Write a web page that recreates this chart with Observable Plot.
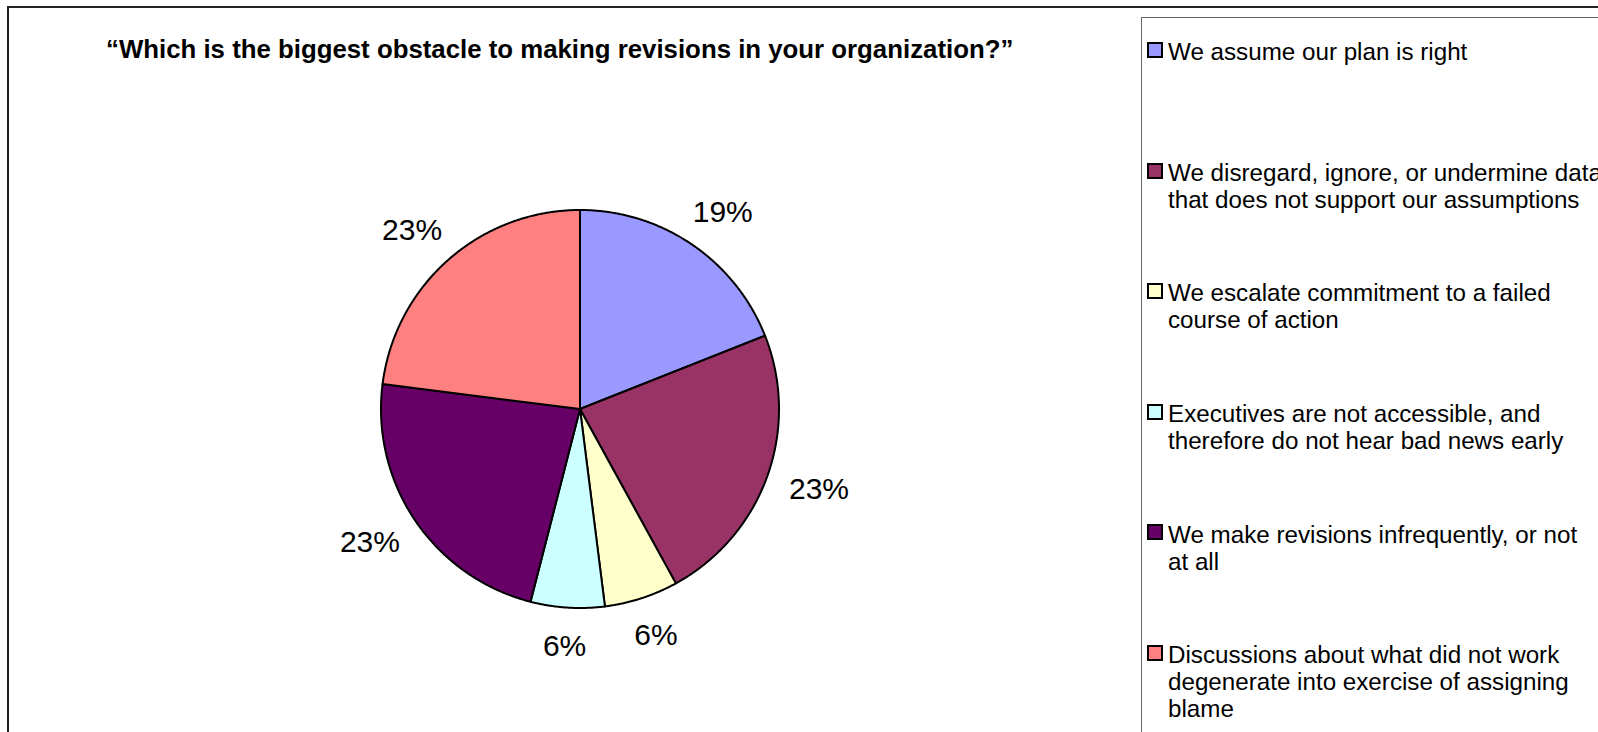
<!DOCTYPE html>
<html>
<head>
<meta charset="utf-8">
<script src="https://cdn.jsdelivr.net/npm/d3@7"></script>
<script src="https://cdn.jsdelivr.net/npm/@observablehq/plot@0.6"></script>
<style>
  html, body { margin: 0; padding: 0; background: #fff; overflow: hidden; }
  body { width: 1598px; height: 732px; position: relative; font-family: "Liberation Sans", Arial, sans-serif; color: #000; }
  #frame { position: absolute; left: 7px; top: 6px; width: 1700px; height: 800px; border: 2px solid #222; box-sizing: border-box; }
  #chart { position: absolute; left: 0; top: 0; }
  #title { position: absolute; left: 106px; top: 35.5px; font-weight: bold; font-size: 25.8px; line-height: 26px; white-space: nowrap; }
  #legend { position: absolute; left: 1141px; top: 17px; width: 700px; height: 800px; border: 1px solid #666; box-sizing: border-box; }
  .sw { position: absolute; left: 5px; width: 16px; height: 16px; border: 2px solid #000; box-sizing: border-box; }
  .lt { position: absolute; left: 26px; font-size: 24.2px; line-height: 27px; white-space: pre; }
</style>
</head>
<body>
<div id="frame"></div>
<div id="chart"></div>
<div id="title"></div>
<div id="legend"></div>
<script>
// ---- data ----
const titleText = "\u201CWhich is the biggest obstacle to making revisions in your organization?\u201D";
const categories = [
  "We assume our plan is right",
  "We disregard, ignore, or undermine data\nthat does not support our assumptions",
  "We escalate commitment to a failed\ncourse of action",
  "Executives are not accessible, and\ntherefore do not hear bad news early",
  "We make revisions infrequently, or not\nat all",
  "Discussions about what did not work\ndegenerate into exercise of assigning\nblame"
];
const percents = [19, 23, 6, 6, 23, 23];
const colors = ["#9999FF", "#993366", "#FFFFCC", "#CCFFFF", "#660066", "#FF8080"];

// ---- layout ----
const W = 1598, H = 732;
const cx = 579.5, cy = 408.5, R = 199, labelR = 224;
const fontFam = "Liberation Sans, Arial, sans-serif";

document.getElementById("title").textContent = titleText;

const arcs = d3.pie().sort(null).value(d => d)(percents);

const slicePts = [];
arcs.forEach((a, i) => {
  slicePts.push({i, x: cx, y: cy, c: colors[i]});
  const n = Math.max(4, Math.ceil((a.endAngle - a.startAngle) / 0.005));
  for (let k = 0; k <= n; k++) {
    const t = a.startAngle + (a.endAngle - a.startAngle) * k / n;
    slicePts.push({i, x: cx + R * Math.sin(t), y: cy - R * Math.cos(t), c: colors[i]});
  }
  slicePts.push({i, x: cx, y: cy, c: colors[i]});
});

const labelData = arcs.map((a, i) => {
  const t = (a.startAngle + a.endAngle) / 2;
  const txt = percents[i] + "%";
  const w = txt.length === 3 ? 60 : 43, h = 28;
  const s = Math.sin(t), c = Math.cos(t);
  return {
    text: txt,
    x: cx + labelR * s + s * w / 2,
    y: cy - labelR * c - c * h / 2
  };
});

const chart = Plot.plot({
  width: W,
  height: H,
  margin: 0,
  x: {domain: [0, W], range: [0, W], axis: null},
  y: {domain: [0, H], range: [0, H], axis: null},
  color: {type: "identity"},
  style: {background: "transparent", fontFamily: fontFam},
  marks: [
    Plot.line(slicePts, {x: "x", y: "y", z: "i", fill: "c", stroke: "#000", strokeWidth: 2, strokeLinejoin: "round"}),
    Plot.text(labelData, {x: "x", y: "y", text: "text", fontSize: 30, fill: "#000", textAnchor: "middle", lineAnchor: "middle", fontFamily: fontFam})
  ]
});
document.getElementById("chart").appendChild(chart);

// ---- legend ----
const legend = document.getElementById("legend");
const baselines0 = 60, step = 120.6;
categories.forEach((cat, i) => {
  const top = baselines0 - 21.8 - 18 + i * step;
  const sw = document.createElement("div");
  sw.className = "sw";
  sw.style.top = (top + 3.8) + "px";
  sw.style.background = colors[i];
  legend.appendChild(sw);
  const lt = document.createElement("div");
  lt.className = "lt";
  lt.style.top = top + "px";
  lt.textContent = cat;
  legend.appendChild(lt);
});
</script>
</body>
</html>
